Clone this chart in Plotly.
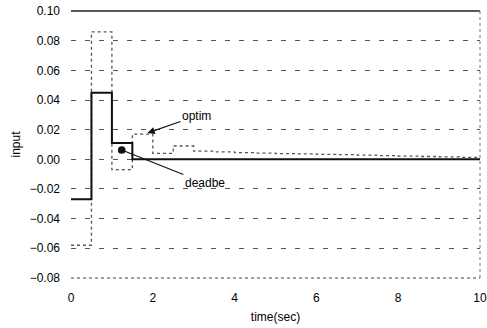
import plotly.graph_objects as go

# time samples (sec), sample period 0.5 s
time = [0, 0.5, 1.0, 1.5, 2.0, 2.5, 3.0, 3.5, 4.0, 4.5, 5.0, 5.5, 6.0, 6.5, 7.0, 7.5, 8.0, 8.5, 9.0, 9.5, 10.0]
optim = [-0.058, 0.086, -0.007, 0.017, 0.004, 0.009, 0.0055, 0.005, 0.0045, 0.0042, 0.0039, 0.0037,
         0.0034, 0.0031, 0.0028, 0.0025, 0.0022, 0.0019, 0.0016, 0.0013, 0.0011]
deadbe = [-0.027, 0.045, 0.011, 0.0, 0.0, 0.0, 0.0, 0.0, 0.0, 0.0, 0.0, 0.0,
          0.0, 0.0, 0.0, 0.0, 0.0, 0.0, 0.0, 0.0, 0.0]
y_ticks = [-0.08, -0.06, -0.04, -0.02, 0.00, 0.02, 0.04, 0.06, 0.08, 0.10]
x_ticks = [0, 2, 4, 6, 8, 10]

FONT = "Liberation Sans, Arial, sans-serif"

fig = go.Figure()
fig.add_trace(go.Scatter(x=time, y=optim, mode="lines", line_shape="hv", name="optim",
                         line=dict(color="#555555", width=1.3, dash="dot")))
fig.add_trace(go.Scatter(x=time, y=deadbe, mode="lines", line_shape="hv", name="deadbe",
                         line=dict(color="#111111", width=2)))

fig.update_layout(
    width=487, height=328,
    margin=dict(l=71, r=7, t=11, b=50),
    paper_bgcolor="white", plot_bgcolor="white",
    showlegend=False,
    font=dict(family=FONT, size=12, color="#000000"),
    xaxis=dict(range=[-0.0001, 10.0001], tickvals=x_ticks, showgrid=False, zeroline=False,
               showline=False, ticks="", ticklabelstandoff=11, ticklabeloverflow="allow",
               title=dict(text="time(sec)", standoff=8, font=dict(size=12)),
               automargin=False),
    yaxis=dict(range=[-0.0801, 0.1001], tickvals=y_ticks, tickformat=".2f",
               showgrid=True, gridcolor="#555555", gridwidth=1, griddash="5px,9px",
               zeroline=False, showline=False, ticks="", ticklabelstandoff=10,
               ticklabeloverflow="allow",
               title=dict(text="input", standoff=6, font=dict(size=12)),
               automargin=False),
)

# frame: solid top, dotted bottom and right
fig.add_shape(type="line", xref="paper", yref="paper", x0=0, x1=1, y0=1, y1=1,
              line=dict(color="#222222", width=1.5))
fig.add_shape(type="line", xref="paper", yref="paper", x0=0, x1=1, y0=0, y1=0,
              line=dict(color="#444444", width=1.2, dash="dot"))
fig.add_shape(type="line", xref="paper", yref="paper", x0=1, x1=1, y0=0, y1=1,
              line=dict(color="#777777", width=1, dash="dot"))

fig.add_annotation(x=1.87, y=0.0178, text="optim", showarrow=True, ax=49, ay=-17,
                   arrowhead=2, arrowsize=1.2, arrowwidth=1.2, arrowcolor="#111111",
                   font=dict(size=12, color="#000000"))
fig.add_annotation(x=1.24, y=0.0063, text="deadbe", showarrow=True, ax=83, ay=33,
                   arrowhead=6, arrowsize=1.6, arrowwidth=1.2, arrowcolor="#111111",
                   font=dict(size=12, color="#000000"))

fig.write_html("out.html", config={"displayModeBar": False},
               post_script="document.body.style.margin='0';")
